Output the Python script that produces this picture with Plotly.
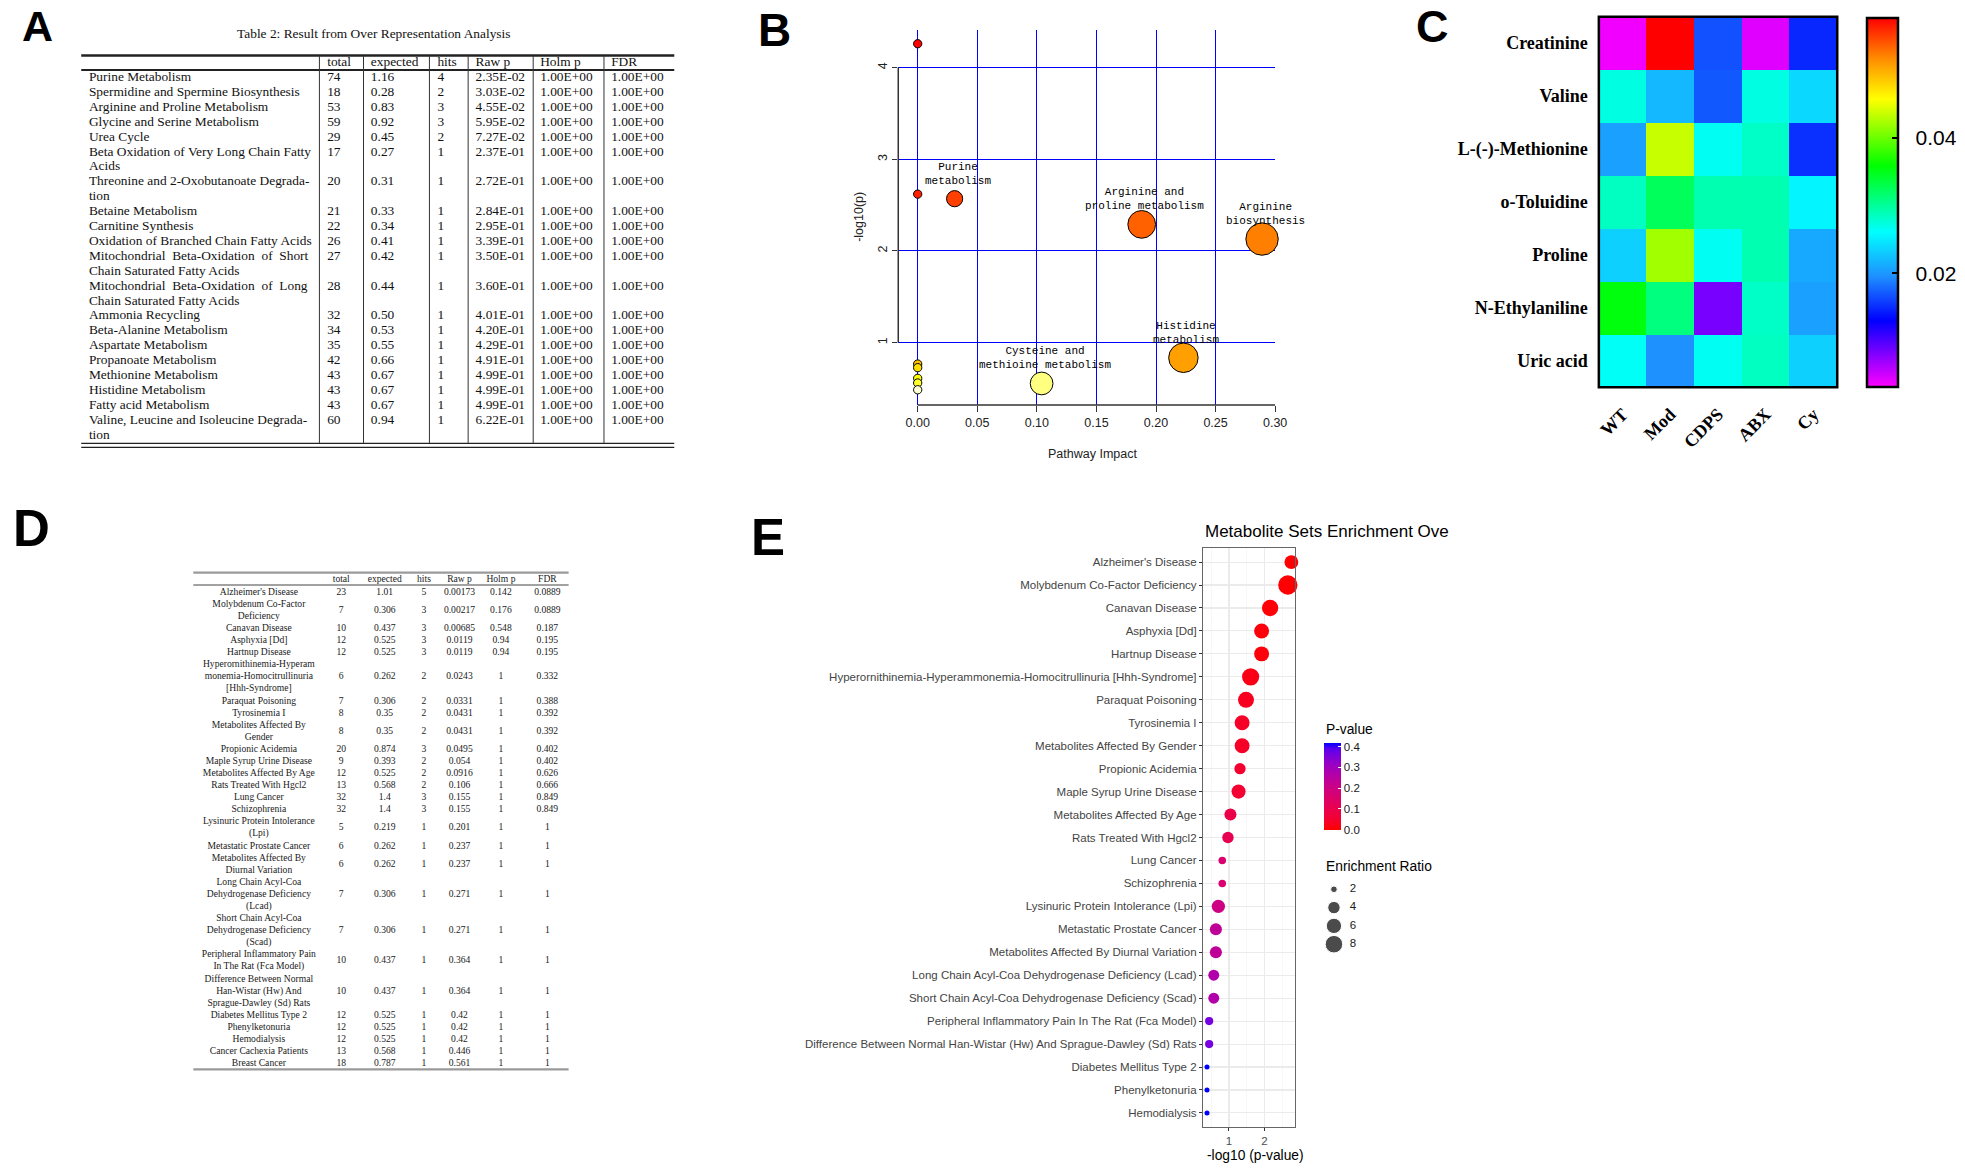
import colorsys
import numpy as np
import plotly.graph_objects as go

W, H = 1965, 1171

# ---------------- Panel A : over representation table ----------------
A_pathway = [
    "Purine Metabolism",
    "Spermidine and Spermine Biosynthesis",
    "Arginine and Proline Metabolism",
    "Glycine and Serine Metabolism",
    "Urea Cycle",
    "Beta Oxidation of Very Long Chain Fatty\nAcids",
    "Threonine and 2-Oxobutanoate Degrada-\ntion",
    "Betaine Metabolism",
    "Carnitine Synthesis",
    "Oxidation of Branched Chain Fatty Acids",
    "Mitochondrial  Beta-Oxidation  of  Short\nChain Saturated Fatty Acids",
    "Mitochondrial  Beta-Oxidation  of  Long\nChain Saturated Fatty Acids",
    "Ammonia Recycling",
    "Beta-Alanine Metabolism",
    "Aspartate Metabolism",
    "Propanoate Metabolism",
    "Methionine Metabolism",
    "Histidine Metabolism",
    "Fatty acid Metabolism",
    "Valine, Leucine and Isoleucine Degrada-\ntion",
]
A_total = [74, 18, 53, 59, 29, 17, 20, 21, 22, 26, 27, 28, 32, 34, 35, 42, 43, 43, 43, 60]
A_expected = [1.16, 0.28, 0.83, 0.92, 0.45, 0.27, 0.31, 0.33, 0.34, 0.41, 0.42, 0.44, 0.50,
              0.53, 0.55, 0.66, 0.67, 0.67, 0.67, 0.94]
A_hits = [4, 2, 3, 3, 2, 1, 1, 1, 1, 1, 1, 1, 1, 1, 1, 1, 1, 1, 1, 1]
A_rawp = [2.35e-2, 3.03e-2, 4.55e-2, 5.95e-2, 7.27e-2, 2.37e-1, 2.72e-1, 2.84e-1, 2.95e-1,
          3.39e-1, 3.50e-1, 3.60e-1, 4.01e-1, 4.20e-1, 4.29e-1, 4.91e-1, 4.99e-1, 4.99e-1,
          4.99e-1, 6.22e-1]
A_holm = [1.0, 1.0, 1.0, 1.0, 1.0, 1.0, 1.0, 1.0, 1.0, 1.0, 1.0, 1.0, 1.0, 1.0, 1.0, 1.0,
          1.0, 1.0, 1.0, 1.0]
A_fdr = [1.0, 1.0, 1.0, 1.0, 1.0, 1.0, 1.0, 1.0, 1.0, 1.0, 1.0, 1.0, 1.0, 1.0, 1.0, 1.0,
         1.0, 1.0, 1.0, 1.0]
A_headers = ["total", "expected", "hits", "Raw p", "Holm p", "FDR"]
A_title = "Table 2: Result from Over Representation Analysis"

# ---------------- Panel B : pathway impact plot ----------------
B_impact = [0.0, 0.0, 0.031, 0.188, 0.289, 0.223, 0.0, 0.0, 0.0, 0.0, 0.104, 0.0]
B_neglogp = [4.26, 2.62, 2.57, 2.29, 2.13, 0.835, 0.767, 0.727, 0.611, 0.56, 0.555, 0.486]
B_label = ["", "", "Purine\nmetabolism", "Arginine and\nproline metabolism",
           "Arginine\nbiosynthesis", "Histidine\nmetabolism", "", "", "", "",
           "Cysteine and\nmethioine metabolism", ""]
B_xticks = [0.0, 0.05, 0.10, 0.15, 0.20, 0.25, 0.30]
B_yticks = [1, 2, 3, 4]

# ---------------- Panel C : heatmap ----------------
C_groups = ["WT", "Mod", "CDPS", "ABX", "Cy"]
C_metabolites = ["Creatinine", "Valine", "L-(-)-Methionine", "o-Toluidine", "Proline",
                 "N-Ethylaniline", "Uric acid"]
C_values = [
    [0.0038, 0.0578, 0.0168, 0.0045, 0.0149],
    [0.0273, 0.0220, 0.0171, 0.0273, 0.0239],
    [0.0206, 0.0437, 0.0267, 0.0284, 0.0153],
    [0.0286, 0.0325, 0.0292, 0.0292, 0.0256],
    [0.0234, 0.0422, 0.0267, 0.0292, 0.0211],
    [0.0355, 0.0311, 0.0085, 0.0284, 0.0206],
    [0.0265, 0.0197, 0.0267, 0.0286, 0.0234],
]
C_cticks = [0.02, 0.04]

# ---------------- Panel D : enrichment table ----------------
D_sets = [
    "Alzheimer's Disease",
    "Molybdenum Co-Factor\nDeficiency",
    "Canavan Disease",
    "Asphyxia [Dd]",
    "Hartnup Disease",
    "Hyperornithinemia-Hyperam\nmonemia-Homocitrullinuria\n[Hhh-Syndrome]",
    "Paraquat Poisoning",
    "Tyrosinemia I",
    "Metabolites Affected By\nGender",
    "Propionic Acidemia",
    "Maple Syrup Urine Disease",
    "Metabolites Affected By Age",
    "Rats Treated With Hgcl2",
    "Lung Cancer",
    "Schizophrenia",
    "Lysinuric Protein Intolerance\n(Lpi)",
    "Metastatic Prostate Cancer",
    "Metabolites Affected By\nDiurnal Variation",
    "Long Chain Acyl-Coa\nDehydrogenase Deficiency\n(Lcad)",
    "Short Chain Acyl-Coa\nDehydrogenase Deficiency\n(Scad)",
    "Peripheral Inflammatory Pain\nIn The Rat (Fca Model)",
    "Difference Between Normal\nHan-Wistar (Hw) And\nSprague-Dawley (Sd) Rats",
    "Diabetes Mellitus Type 2",
    "Phenylketonuria",
    "Hemodialysis",
    "Cancer Cachexia Patients",
    "Breast Cancer",
]
D_total = [23, 7, 10, 12, 12, 6, 7, 8, 8, 20, 9, 12, 13, 32, 32, 5, 6, 6, 7, 7, 10, 10, 12,
           12, 12, 13, 18]
D_expected = [1.01, 0.306, 0.437, 0.525, 0.525, 0.262, 0.306, 0.35, 0.35, 0.874, 0.393,
              0.525, 0.568, 1.4, 1.4, 0.219, 0.262, 0.262, 0.306, 0.306, 0.437, 0.437,
              0.525, 0.525, 0.525, 0.568, 0.787]
D_hits = [5, 3, 3, 3, 3, 2, 2, 2, 2, 3, 2, 2, 2, 3, 3, 1, 1, 1, 1, 1, 1, 1, 1, 1, 1, 1, 1]
D_rawp = [0.00173, 0.00217, 0.00685, 0.0119, 0.0119, 0.0243, 0.0331, 0.0431, 0.0431,
          0.0495, 0.054, 0.0916, 0.106, 0.155, 0.155, 0.201, 0.237, 0.237, 0.271, 0.271,
          0.364, 0.364, 0.42, 0.42, 0.42, 0.446, 0.561]
D_holm = [0.142, 0.176, 0.548, 0.94, 0.94, 1, 1, 1, 1, 1, 1, 1, 1, 1, 1, 1, 1, 1, 1, 1, 1,
          1, 1, 1, 1, 1, 1]
D_fdr = [0.0889, 0.0889, 0.187, 0.195, 0.195, 0.332, 0.388, 0.392, 0.392, 0.402, 0.402,
         0.626, 0.666, 0.849, 0.849, 1, 1, 1, 1, 1, 1, 1, 1, 1, 1, 1, 1]
D_headers = ["total", "expected", "hits", "Raw p", "Holm p", "FDR"]

# ---------------- Panel E : enrichment overview ----------------
E_sets = [
    "Alzheimer's Disease", "Molybdenum Co-Factor Deficiency", "Canavan Disease",
    "Asphyxia [Dd]", "Hartnup Disease",
    "Hyperornithinemia-Hyperammonemia-Homocitrullinuria [Hhh-Syndrome]",
    "Paraquat Poisoning", "Tyrosinemia I", "Metabolites Affected By Gender",
    "Propionic Acidemia", "Maple Syrup Urine Disease", "Metabolites Affected By Age",
    "Rats Treated With Hgcl2", "Lung Cancer", "Schizophrenia",
    "Lysinuric Protein Intolerance (Lpi)", "Metastatic Prostate Cancer",
    "Metabolites Affected By Diurnal Variation",
    "Long Chain Acyl-Coa Dehydrogenase Deficiency (Lcad)",
    "Short Chain Acyl-Coa Dehydrogenase Deficiency (Scad)",
    "Peripheral Inflammatory Pain In The Rat (Fca Model)",
    "Difference Between Normal Han-Wistar (Hw) And Sprague-Dawley (Sd) Rats",
    "Diabetes Mellitus Type 2", "Phenylketonuria", "Hemodialysis",
]
E_neglogp = [2.76, 2.66, 2.16, 1.92, 1.92, 1.61, 1.48, 1.37, 1.37, 1.31, 1.27, 1.04, 0.97,
             0.81, 0.81, 0.70, 0.63, 0.63, 0.57, 0.57, 0.44, 0.44, 0.38, 0.38, 0.38]
E_pvalue = [0.00173, 0.00217, 0.00685, 0.0119, 0.0119, 0.0243, 0.0331, 0.0431, 0.0431,
            0.0495, 0.054, 0.0916, 0.106, 0.155, 0.155, 0.201, 0.237, 0.237, 0.271, 0.271,
            0.364, 0.364, 0.42, 0.42, 0.42]
E_ratio = [4.95, 9.80, 6.86, 5.71, 5.71, 7.63, 6.54, 5.71, 5.71, 3.43, 5.09, 3.81, 3.52,
           2.14, 2.14, 4.57, 3.82, 3.82, 3.27, 3.27, 2.29, 2.29, 1.90, 1.90, 1.90]
E_size_legend = [2, 4, 6, 8]
E_p_ticks = [0.0, 0.1, 0.2, 0.3, 0.4]
E_x_ticks = [1, 2]

# ====================================================================
SERIF = "Liberation Serif, Times New Roman, serif"
SANS = "Liberation Sans, Arial, sans-serif"
NARROW = "Liberation Sans, Arial, sans-serif"
MONO = "Liberation Mono, DejaVu Sans Mono, monospace"
NB = "\u00a0"


def fx(p):
    return p / W


def fy(p):
    return 1 - p / H


def r_heat_colors(n):
    j = n // 4
    i = n - j
    cols = []
    for k in range(i):
        h = (1 / 6) * k / (i - 1)
        cols.append(colorsys.hsv_to_rgb(h, 1, 1))
    if j > 0:
        for s in np.linspace(1 - 1 / (2 * j), 1 / (2 * j), j):
            cols.append(colorsys.hsv_to_rgb(1 / 6, s, 1))
    return ["rgb(%d,%d,%d)" % tuple(int(round(c * 255)) for c in col) for col in cols]


fig = go.Figure()
shapes = []
annotations = []

# overlay pixel axis (x6/y6) for tables and legends
PIX = dict(xaxis="x6", yaxis="y6")

# ---------------- A table ----------------
A_left, A_right = 79.8, 677.1
A_seps = [319.7, 364.1, 430.5, 469.5, 535.0, 606.3]
A_name_x = 87.5
A_col_x = [327.5, 371.5, 438.5, 477.0, 542.0, 613.5]
A_y0, A_lh = 77.7, 14.9
A_head_y = 62.3
tx, ty, tt = [], [], []
line = 0
for i, nm in enumerate(A_pathway):
    parts = nm.split("\n")
    for k, p in enumerate(parts):
        tx.append(A_name_x)
        ty.append(A_y0 + A_lh * (line + k))
        tt.append(p)
    cells = [str(A_total[i]), f"{A_expected[i]:.2f}", str(A_hits[i]), f"{A_rawp[i]:.2E}",
             f"{A_holm[i]:.2E}", f"{A_fdr[i]:.2E}"]
    for cx, c in zip(A_col_x, cells):
        tx.append(cx)
        ty.append(A_y0 + A_lh * line)
        tt.append(c)
    line += len(parts)
for cx, h in zip(A_col_x, A_headers):
    tx.append(cx)
    ty.append(A_head_y)
    tt.append(h)
fig.add_trace(go.Scatter(x=tx, y=ty, text=tt, mode="text", textposition="middle right",
                         textfont=dict(family=SERIF, size=13.4, color="#111"),
                         hoverinfo="skip", cliponaxis=False, **PIX))
A_top, A_hline, A_b1, A_b2 = 55.5, 70.0, 443.3, 447.3
for yv, wd in [(A_top, 2.3), (A_hline, 1.8), (A_b1, 1.3), (A_b2, 1.3)]:
    shapes.append(dict(type="line", xref="x6", yref="y6", x0=A_left, x1=A_right, y0=yv, y1=yv,
                       line=dict(color="#222", width=wd)))
for sx in A_seps:
    shapes.append(dict(type="line", xref="x6", yref="y6", x0=sx, x1=sx, y0=A_top, y1=A_b1,
                       line=dict(color="#333", width=1)))
annotations.append(dict(text=A_title, x=fx(375), y=fy(33.3), xref="paper", yref="paper",
                        showarrow=False, xanchor="center", yanchor="middle",
                        font=dict(family=SERIF, size=13.4, color="#111")))

# ---------------- D table ----------------
D_left, D_right = 192.7, 570.7
D_name_x = 258.7
D_col_x = [341.7, 385.5, 425.0, 460.8, 502.5, 549.3]
D_y0, D_lh = 592.3, 12.09
D_head_y = 579.3
tx, ty, tt = [], [], []
line = 0
for i, nm in enumerate(D_sets):
    parts = nm.split("\n")
    for k, p in enumerate(parts):
        tx.append(D_name_x)
        ty.append(D_y0 + D_lh * (line + k))
        tt.append(p)
    ymid = D_y0 + D_lh * (line + (len(parts) - 1) / 2)
    cells = [str(D_total[i]), f"{D_expected[i]:g}", str(D_hits[i]), f"{D_rawp[i]:g}",
             f"{D_holm[i]:g}", f"{D_fdr[i]:g}"]
    for cx, c in zip(D_col_x, cells):
        tx.append(cx)
        ty.append(ymid)
        tt.append(c)
    line += len(parts)
for cx, h in zip(D_col_x, D_headers):
    tx.append(cx)
    ty.append(D_head_y)
    tt.append(h)
fig.add_trace(go.Scatter(x=tx, y=ty, text=tt, mode="text", textposition="middle center",
                         textfont=dict(family=SERIF, size=9.6, color="#1a1a1a"),
                         hoverinfo="skip", cliponaxis=False, **PIX))
for yv, wd, col in [(572.7, 2.2, "#9a9a9a"), (585.0, 1.0, "#444"), (1069.3, 2.2, "#9a9a9a")]:
    shapes.append(dict(type="line", xref="x6", yref="y6", x0=D_left, x1=D_right, y0=yv, y1=yv,
                       line=dict(color=col, width=wd)))

# ---------------- B : pathway impact ----------------
order = np.argsort(-np.array(B_neglogp), kind="stable")
heat = r_heat_colors(len(B_neglogp))
B_colors = [None] * len(B_neglogp)
for rank, idx in enumerate(order):
    B_colors[idx] = heat[rank]
B_sizes = [8.3 + 44.8 * np.sqrt(v) for v in B_impact]
draw_order = list(np.argsort(-np.array(B_sizes), kind="stable"))
fig.add_trace(go.Scatter(
    x=[B_impact[i] for i in draw_order], y=[B_neglogp[i] for i in draw_order], mode="markers",
    marker=dict(size=[B_sizes[i] for i in draw_order], color=[B_colors[i] for i in draw_order],
                line=dict(color="black", width=1), opacity=1),
    cliponaxis=False, hoverinfo="skip", xaxis="x", yaxis="y"))
for xi, yi, lab in zip(B_impact, B_neglogp, B_label):
    if lab:
        annotations.append(dict(text=lab.replace("\n", "<br>"), x=xi, y=yi, xref="x", yref="y",
                                showarrow=False, xanchor="center", yanchor="bottom", yshift=10,
                                xshift=3,
                                font=dict(family=MONO, size=11, color="black")))
B_xmin, B_xmax, B_ymin, B_ymax = -0.0163, 0.30, 0.32, 4.41
shapes.append(dict(type="line", xref="x domain", yref="y", x0=0, x1=0, y0=1, y1=4,
                   line=dict(color="#333", width=1.5)))
shapes.append(dict(type="line", xref="x", yref="y domain", x0=0, x1=0.30, y0=0, y1=0,
                   line=dict(color="#333", width=1.5)))
annotations.append(dict(text="-log10(p)", x=fx(863), y=fy(217), xref="paper", yref="paper",
                        showarrow=False, textangle=-90, xanchor="center", yanchor="middle",
                        font=dict(family=SANS, size=12.5, color="#222")))
annotations.append(dict(text="Pathway Impact", x=fx(1098), y=fy(454), xref="paper",
                        yref="paper", showarrow=False, xanchor="center", yanchor="middle",
                        font=dict(family=SANS, size=12.5, color="#222")))

# ---------------- C : heatmap ----------------
C_zmin, C_zmax = 0.0033, 0.0578
C_scale = [[0.0, "#FF00FF"], [0.09, "#8000FF"], [0.18, "#0000FF"], [0.30, "#1E90FF"],
           [0.42, "#00FFFF"], [0.60, "#00FF00"], [0.78, "#FFFF00"], [0.89, "#FF8C00"],
           [1.0, "#FF0000"]]
fig.add_trace(go.Heatmap(
    z=C_values, x=C_groups, y=C_metabolites, colorscale=C_scale, zmin=C_zmin, zmax=C_zmax,
    xaxis="x2", yaxis="y2", hoverinfo="skip",
    colorbar=dict(x=fx(1878), xanchor="left", xpad=0, y=fy((17.3 + 386.7) / 2),
                  yanchor="middle", len=369.4, lenmode="pixels", thickness=30.6,
                  thicknessmode="pixels", ypad=0, outlinewidth=2.5, outlinecolor="black",
                  tickvals=C_cticks, ticktext=[NB * 2 + f"{v:.2f}" for v in C_cticks],
                  ticks="inside", ticklen=7, tickwidth=2, tickcolor="black",
                  tickfont=dict(family=SANS, size=21, color="black"))))
shapes.append(dict(type="rect", xref="x2 domain", yref="y2 domain", x0=0, x1=1, y0=0, y1=1,
                   line=dict(color="black", width=2.5)))

# ---------------- E : dot plot ----------------
r_min, r_max = min(E_ratio), max(E_ratio)


def e_size(r):
    return 5 + 14.3 * np.sqrt(max(r - r_min, 0) / (r_max - r_min))


E_scale = [[0.0, "#FF0000"], [0.125, "#F40031"], [0.25, "#E8004F"], [0.375, "#DA006C"],
           [0.5, "#CA0088"], [0.625, "#B500A5"], [0.75, "#9A00C3"], [0.875, "#7300E0"],
           [0.9375, "#5400F0"], [1.0, "#0000FF"]]
E_idx = list(range(len(E_sets)))
LEGX = 1331.5
fig.add_trace(go.Scatter(
    x=E_neglogp, y=E_idx, mode="markers", xaxis="x5", yaxis="y5", hoverinfo="skip",
    cliponaxis=False,
    marker=dict(size=[e_size(r) for r in E_ratio], color=E_pvalue, colorscale=E_scale,
                cmin=0.0, cmax=0.42, line=dict(width=0), opacity=1,
                colorbar=dict(x=fx(LEGX), xanchor="left", xpad=0, y=fy((742.7 + 829.3) / 2),
                              yanchor="middle", len=86.6, lenmode="pixels", thickness=17.4,
                              thicknessmode="pixels", ypad=0, outlinewidth=0,
                              tickvals=E_p_ticks, ticktext=[f"{v:.1f}" for v in E_p_ticks],
                              ticks="inside", ticklen=3, tickcolor="white",
                              tickfont=dict(family=NARROW, size=11.5, color="#1a1a1a")))))
# size legend
leg_y0, leg_dy = 889.3, 18.3
fig.add_trace(go.Scatter(
    x=[LEGX + 10] * len(E_size_legend), y=[leg_y0 + leg_dy * i for i in range(len(E_size_legend))],
    mode="markers", marker=dict(size=[e_size(v) for v in E_size_legend], color="black"),
    hoverinfo="skip", cliponaxis=False, **PIX))
fig.add_trace(go.Scatter(
    x=[LEGX + 26] * len(E_size_legend), y=[leg_y0 + leg_dy * i for i in range(len(E_size_legend))],
    mode="text", text=[str(v) for v in E_size_legend], textposition="middle right",
    textfont=dict(family=NARROW, size=11.5, color="#1a1a1a"), hoverinfo="skip",
    cliponaxis=False, **PIX))
annotations.append(dict(text="P-value", x=fx(LEGX), y=fy(729), xref="paper", yref="paper",
                        showarrow=False, xanchor="left", yanchor="middle",
                        font=dict(family=NARROW, size=13.8, color="black")))
annotations.append(dict(text="Enrichment Ratio", x=fx(LEGX), y=fy(866.7), xref="paper",
                        yref="paper", showarrow=False, xanchor="left", yanchor="middle",
                        font=dict(family=NARROW, size=13.8, color="black")))
annotations.append(dict(text="Metabolite Sets Enrichment Ove", x=fx(1210), y=fy(531),
                        xref="paper", yref="paper", showarrow=False, xanchor="left",
                        yanchor="middle", font=dict(family=NARROW, size=17, color="black")))
annotations.append(dict(text="-log10 (p-value)", x=fx(1262), y=fy(1155), xref="paper",
                        yref="paper", showarrow=False, xanchor="center", yanchor="middle",
                        font=dict(family=NARROW, size=13.8, color="black")))

# ---------------- panel letters ----------------
for letter, cx, cy, sz in [("A", 35.7, 23, 43), ("B", 778, 27, 46), ("C", 1441, 24, 45),
                           ("D", 30, 525, 51), ("E", 771, 534, 51)]:
    annotations.append(dict(text=f"<b>{letter}</b>", x=fx(cx), y=fy(cy + sz * 0.06),
                            xref="paper", yref="paper", showarrow=False, xanchor="center",
                            yanchor="middle", font=dict(family=SANS, size=sz, color="black")))

# ---------------- layout ----------------
fig.update_layout(
    width=W, height=H, margin=dict(l=0, r=0, t=0, b=0, pad=0), autosize=False,
    paper_bgcolor="white", plot_bgcolor="rgba(0,0,0,0)", showlegend=False,
    shapes=shapes, annotations=annotations,
    xaxis=dict(domain=[fx(902.7), fx(1282.3)], range=[B_xmin, B_xmax], anchor="y",
               tickvals=B_xticks, tickformat=".2f", showgrid=True, gridcolor="#0000FF",
               gridwidth=1, zeroline=False, showline=False, ticks="outside", ticklen=6,
               tickcolor="#333", tickfont=dict(family=SANS, size=12.5, color="#222")),
    yaxis=dict(domain=[fy(405), fy(30)], range=[B_ymin, B_ymax], anchor="x",
               tickvals=B_yticks, tickangle=-90, showgrid=True, gridcolor="#0000FF",
               gridwidth=1, zeroline=False, showline=False, ticks="outside", ticklen=5,
               tickcolor="#333", tickfont=dict(family=SANS, size=12.5, color="#222")),
    xaxis2=dict(domain=[fx(1608.3), fx(1848.4)], anchor="y2", tickangle=-45, showgrid=False,
                zeroline=False, showline=False, ticks="", ticklabelstandoff=12,
                tickfont=dict(family=SERIF, size=18, color="black", weight="bold")),
    yaxis2=dict(domain=[fy(387.3), fy(16.7)], anchor="x2", autorange="reversed",
                showgrid=False, zeroline=False, showline=False, ticks="", ticklabelstandoff=10,
                tickfont=dict(family=SERIF, size=18, color="black", weight="bold")),
    xaxis5=dict(domain=[fx(1210), fx(1302.3)], range=[0.277, 2.863], anchor="y5",
                tickvals=E_x_ticks, showgrid=True, gridcolor="#EBEBEB", gridwidth=1.1,
                minor=dict(tickvals=[0.5, 1.5, 2.5], showgrid=True, gridcolor="#F2F2F2",
                           gridwidth=0.6, ticks=""),
                zeroline=False, showline=True, mirror=True, linecolor="#666", linewidth=1,
                ticks="outside", ticklen=3.5, tickcolor="#333",
                tickfont=dict(family=NARROW, size=11.5, color="#4D4D4D")),
    yaxis5=dict(domain=[fy(1126.7), fy(548.3)], range=[len(E_sets) - 0.4, -0.6], anchor="x5",
                tickvals=E_idx, ticktext=E_sets, showgrid=True, gridcolor="#EBEBEB",
                gridwidth=1.1, zeroline=False, showline=True, mirror=True, linecolor="#666",
                linewidth=1, ticks="outside", ticklen=3.5, tickcolor="#333",
                tickfont=dict(family=NARROW, size=11.5, color="#444")),
    xaxis6=dict(domain=[0, 1], range=[0, W], anchor="y6", visible=False, fixedrange=True),
    yaxis6=dict(domain=[0, 1], range=[H, 0], anchor="x6", visible=False, fixedrange=True),
)

fig.write_html("out.html", include_plotlyjs=True, full_html=True,
               config={"displayModeBar": False, "staticPlot": True},
               post_script="document.body.style.margin='0';document.body.style.overflow='hidden';")
